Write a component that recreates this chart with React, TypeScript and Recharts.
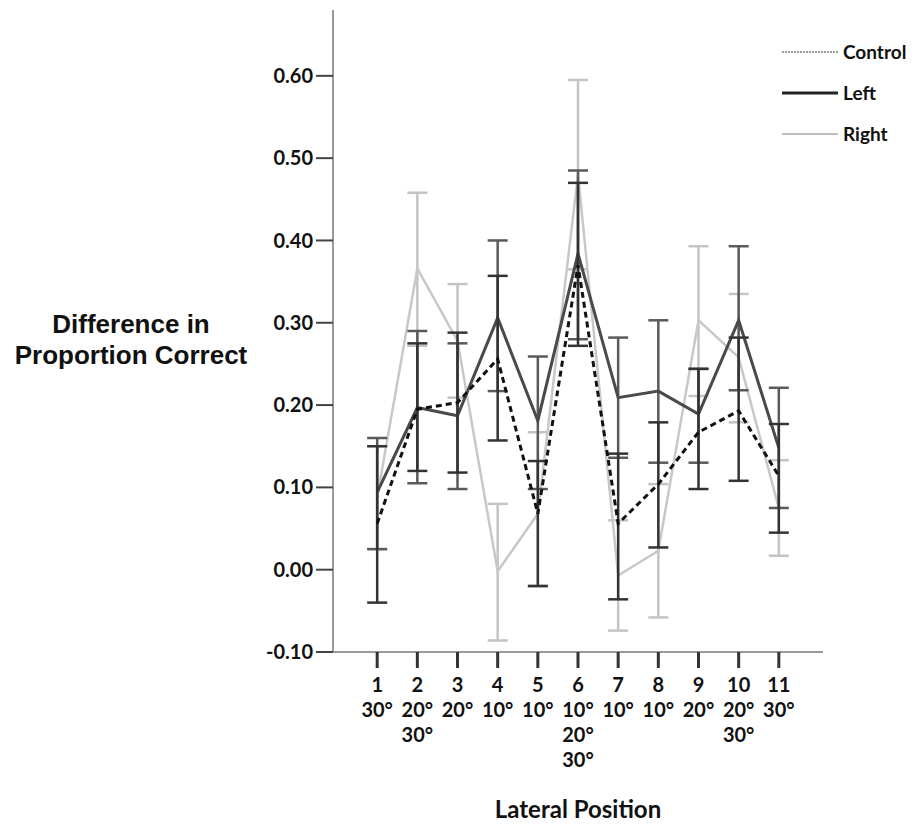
import { LineChart, Line, XAxis, YAxis, ErrorBar } from "recharts";

const positions = [1, 2, 3, 4, 5, 6, 7, 8, 9, 10, 11];
const angleLabels = [
  ["30°"],
  ["20°", "30°"],
  ["20°"],
  ["10°"],
  ["10°"],
  ["10°", "20°", "30°"],
  ["10°"],
  ["10°"],
  ["20°"],
  ["20°", "30°"],
  ["30°"],
];
const yTicks = [-0.1, 0, 0.1, 0.2, 0.3, 0.4, 0.5, 0.6];

const control = [0.056, 0.195, 0.203, 0.256, 0.068, 0.37, 0.056, 0.104, 0.167, 0.193, 0.114];
const controlLow = [-0.04, 0.12, 0.118, 0.157, -0.02, 0.272, -0.036, 0.027, 0.098, 0.108, 0.045];
const controlHigh = [0.15, 0.275, 0.288, 0.357, 0.132, 0.47, 0.141, 0.179, 0.244, 0.282, 0.177];

const left = [0.094, 0.197, 0.187, 0.306, 0.181, 0.384, 0.209, 0.217, 0.189, 0.303, 0.148];
const leftLow = [0.025, 0.105, 0.098, 0.217, 0.098, 0.28, 0.136, 0.13, 0.13, 0.218, 0.075];
const leftHigh = [0.16, 0.29, 0.275, 0.4, 0.259, 0.485, 0.282, 0.303, 0.244, 0.393, 0.221];

const right = [0.088, 0.366, 0.278, -0.002, 0.068, 0.48, -0.007, 0.023, 0.303, 0.258, 0.075];
const rightLow = [0.025, 0.272, 0.209, -0.086, -0.019, 0.365, -0.074, -0.058, 0.211, 0.179, 0.017];
const rightHigh = [0.15, 0.458, 0.347, 0.08, 0.167, 0.595, 0.06, 0.104, 0.393, 0.335, 0.133];

const data = positions.map((pos, i) => ({
  pos,
  control: control[i],
  controlErr: [control[i] - controlLow[i], controlHigh[i] - control[i]],
  left: left[i],
  leftErr: [left[i] - leftLow[i], leftHigh[i] - left[i]],
  right: right[i],
  rightErr: [right[i] - rightLow[i], rightHigh[i] - right[i]],
}));

const TICK_FONT = "Lato, 'DejaVu Sans', sans-serif";

const legendItems = [
  { name: "Control", stroke: "#9a9a9a", width: 2, dash: "2 1" },
  { name: "Left", stroke: "#222", width: 3, dash: undefined },
  { name: "Right", stroke: "#bdbdbd", width: 2, dash: undefined },
];

const XTick = ({ x, y, payload }: any) => {
  const idx = positions.indexOf(payload.value);
  const lines = [String(payload.value), ...(angleLabels[idx] || [])];
  return (
    <text
      x={x}
      y={y + 22}
      textAnchor="middle"
      fontFamily={TICK_FONT}
      fontWeight={700}
      fontSize={20}
      fill="#111"
    >
      {lines.map((t, i) => (
        <tspan key={i} x={x} dy={i === 0 ? 0 : 25}>
          {t}
        </tspan>
      ))}
    </text>
  );
};

const LegendBox = () => (
  <svg width={136} height={120} style={{ position: "absolute", left: 780, top: 40 }}>
    {legendItems.map((it, i) => (
      <g key={it.name}>
        <line
          x1={2}
          x2={58}
          y1={12 + i * 41}
          y2={12 + i * 41}
          stroke={it.stroke}
          strokeWidth={it.width}
          strokeDasharray={it.dash}
        />
        <text x={63} y={19 + i * 41} fontFamily={TICK_FONT} fontWeight={700} fontSize={19} fill="#111">
          {it.name}
        </text>
      </g>
    ))}
  </svg>
);

export default function App() {
  return (
    <div style={{ position: "absolute", left: 0, top: 0, width: 916, height: 824, background: "#fff" }}>
      <LineChart width={916} height={824} data={data} margin={{ top: 10, right: 93, left: 0, bottom: 0 }}>
        <XAxis
          dataKey="pos"
          type="number"
          domain={[-0.1, 12.1]}
          ticks={positions}
          interval={0}
          height={172}
          stroke="#9a9a9a"
          strokeWidth={2}
          tickLine={{ stroke: "#333", strokeWidth: 3 }}
          tickSize={16}
          tick={<XTick />}
          label={{
            value: "Lateral Position",
            position: "insideBottom",
            offset: 6,
            fontFamily: TICK_FONT,
            fontWeight: 700,
            fontSize: 24,
            fill: "#111",
          }}
        />
        <YAxis
          type="number"
          domain={[-0.1, 0.68]}
          ticks={yTicks}
          interval={0}
          width={333}
          stroke="#9a9a9a"
          strokeWidth={2}
          tickLine={{ stroke: "#444", strokeWidth: 2 }}
          tickSize={17}
          tickMargin={3}
          tickFormatter={(v: number) => v.toFixed(2)}
          tick={{ fontFamily: TICK_FONT, fontWeight: 700, fontSize: 20, fill: "#111" }}
          label={{
            content: () => (
              <text
                textAnchor="middle"
                fontFamily="'Liberation Sans', Arial, sans-serif"
                fontWeight={700}
                fontSize={26}
                fill="#111"
              >
                <tspan x={131} y={333}>Difference in</tspan>
                <tspan x={131} y={364}>Proportion Correct</tspan>
              </text>
            ),
          }}
        />
        <Line
          dataKey="right"
          name="Right"
          stroke="#c8c8c8"
          strokeWidth={2.5}
          dot={false}
          activeDot={false}
          isAnimationActive={false}
        >
          <ErrorBar dataKey="rightErr" width={10} stroke="#c4c4c4" strokeWidth={2.5} isAnimationActive={false} />
        </Line>
        <Line
          dataKey="left"
          name="Left"
          stroke="#4a4a4a"
          strokeWidth={3}
          dot={false}
          activeDot={false}
          isAnimationActive={false}
        >
          <ErrorBar dataKey="leftErr" width={10} stroke="#5a5a5a" strokeWidth={2.5} isAnimationActive={false} />
        </Line>
        <Line
          dataKey="control"
          name="Control"
          stroke="#111"
          strokeWidth={3}
          strokeDasharray="6 4"
          dot={false}
          activeDot={false}
          isAnimationActive={false}
        >
          <ErrorBar dataKey="controlErr" width={10} stroke="#333" strokeWidth={2.5} isAnimationActive={false} />
        </Line>
      </LineChart>
      <LegendBox />
    </div>
  );
}
